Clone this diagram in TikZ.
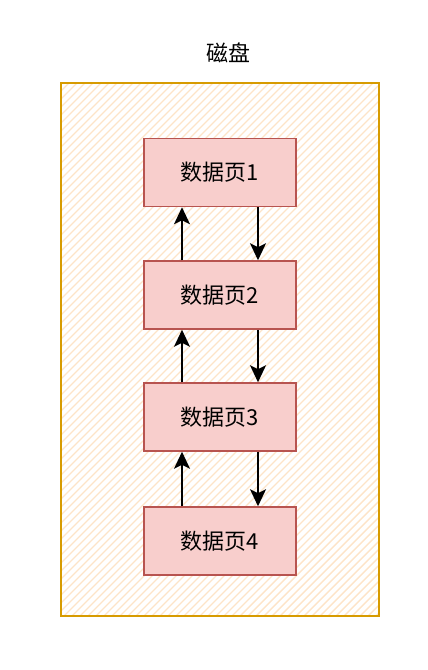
\documentclass[tikz,border=0pt]{standalone}
\usepackage{fontspec}
\newfontfamily\cjk{Noto Sans CJK SC}
\usetikzlibrary{arrows.meta}
\definecolor{diskline}{HTML}{D79B00}
\definecolor{diskhatch}{HTML}{FDE4C8}
\definecolor{pagefill}{HTML}{F8CECC}
\definecolor{pageline}{HTML}{B85450}

\begin{document}
\begin{tikzpicture}[x=1pt,y=-1pt,
	disk/.style={draw=diskline,line width=1.5pt,minimum width=318pt,minimum height=533pt,inner sep=0pt},
	hatch/.style={diskhatch,line width=1.4pt},
	page/.style={draw=pageline,fill=pagefill,line width=1.5pt,minimum width=152pt,minimum height=68pt,inner sep=0pt,font=\cjk\fontsize{22}{26}\selectfont},
	link/.style={line width=1.5pt,-{Stealth[length=17pt,width=16pt,inset=4pt]}}]
	\useasboundingbox (0,0) rectangle (428,670);
	
	\begin{scope}
		\clip (61,83) rectangle (379,616);
		\foreach \i in {-480,-472,...,380}
			\draw[hatch] (\i,616) -- (\i+533,83);
	\end{scope}
	\node[disk] (disk) at (220,349.5) {};
	\node[font=\cjk\fontsize{22}{26}\selectfont] (title) at (228,53) {磁盘};
	
	\node[page] (p1) at (220,172.5) {数据页1};
	\node[page] (p2) at (220,295) {数据页2};
	\node[page] (p3) at (220,417) {数据页3};
	\node[page] (p4) at (220,541) {数据页4};
	
	\coordinate (up) at (182,0);
	\coordinate (dn) at (258,0);
	
	\draw[link] (p2.north -| up) -- (p1.south -| up);
	\draw[link] (p1.south -| dn) -- (p2.north -| dn);
	\draw[link] (p3.north -| up) -- (p2.south -| up);
	\draw[link] (p2.south -| dn) -- (p3.north -| dn);
	\draw[link] (p4.north -| up) -- (p3.south -| up);
	\draw[link] (p3.south -| dn) -- (p4.north -| dn);
\end{tikzpicture}
\end{document}
